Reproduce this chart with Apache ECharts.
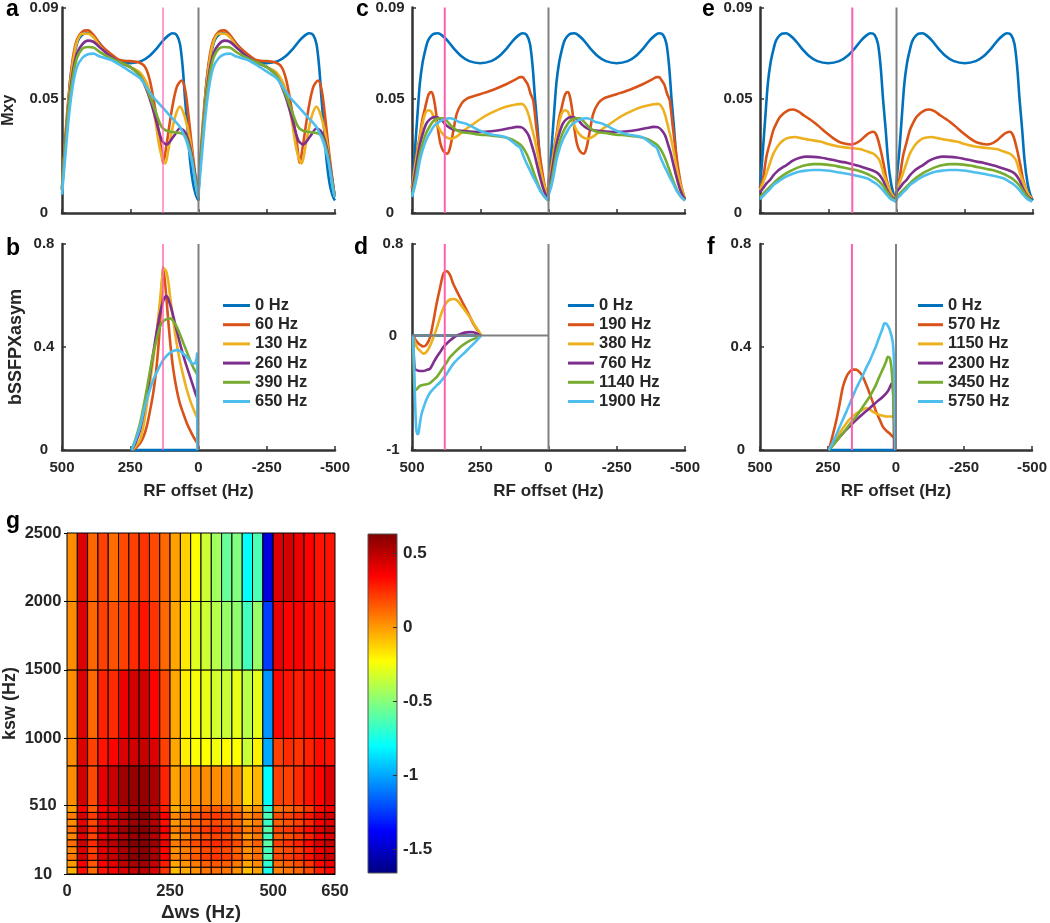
<!DOCTYPE html>
<html><head><meta charset="utf-8">
<script src="https://cdn.jsdelivr.net/npm/echarts@6/dist/echarts.min.js"></script>
<style>html,body{margin:0;padding:0;background:#fff}#chart{width:1050px;height:923px}</style>
</head><body><div id="chart"></div>
<script>
// ================= DATA =================
// RF offsets (Hz) for one 500 Hz period (500 -> 0); the Mxy profile repeats for 0 -> -500
const legendB = ['0 Hz', '60 Hz', '130 Hz', '260 Hz', '390 Hz', '650 Hz'];
const legendD = ['0 Hz', '190 Hz', '380 Hz', '760 Hz', '1140 Hz', '1900 Hz'];
const legendF = ['0 Hz', '570 Hz', '1150 Hz', '2300 Hz', '3450 Hz', '5750 Hz'];

const pinkA = 130, pinkC = 380, pinkE = 162;   // saturation offsets (pink lines)

const mxyTicks = [0, 0.05, 0.09];
const asymTicksB = [0, 0.4, 0.8];
const asymTicksD = [-1, 0, 0.8];
const xTickLabels = [500, 250, 0, -250, -500];

// 0 Hz (no exchange) Mxy, one period
const mxyBlue = [[500,0.011],[489,0.028],[480,0.043],[471,0.057],[461,0.066],[452,0.071],[443,0.075],[434,0.077],[420,0.0785],[405,0.0787],[390,0.0778],[370,0.0755],[350,0.0725],[320,0.0688],[290,0.0665],[250,0.0656],[210,0.0665],[180,0.0688],[150,0.0725],[130,0.0755],[110,0.0778],[95,0.0787],[80,0.078],[68,0.0741],[58,0.064],[49,0.0494],[40,0.037],[31,0.0232],[20,0.013],[10,0.008],[3,0.006],[0,0.0055]];

// panel a (Δω varies)
const mxyA60 = [[500,0.011],[490,0.030],[475,0.052],[460,0.068],[445,0.076],[425,0.0795],[405,0.080],[385,0.078],[361,0.074],[324,0.070],[288,0.067],[251,0.0665],[220,0.066],[196,0.064],[178,0.058],[160,0.0465],[141,0.032],[129,0.022],[117,0.030],[98,0.045],[80,0.055],[62,0.058],[49,0.054],[37,0.043],[25,0.030],[12,0.017],[1,0.007]];
const mxyA130 = [[500,0.010],[490,0.028],[475,0.050],[460,0.066],[445,0.075],[425,0.0785],[405,0.0785],[385,0.077],[361,0.073],[324,0.0687],[288,0.066],[251,0.064],[214,0.0615],[184,0.055],[159,0.041],[141,0.0277],[123,0.0217],[104,0.032],[86,0.042],[68,0.0466],[50,0.042],[31,0.032],[13,0.016],[1,0.007]];
const mxyA260 = [[500,0.010],[490,0.027],[475,0.048],[460,0.062],[445,0.070],[425,0.074],[405,0.0755],[385,0.075],[361,0.0725],[324,0.0687],[288,0.066],[251,0.064],[214,0.060],[184,0.052],[159,0.0422],[135,0.032],[117,0.030],[92,0.0334],[68,0.037],[50,0.0355],[31,0.029],[13,0.017],[1,0.007]];
const mxyA390 = [[500,0.010],[490,0.026],[475,0.047],[460,0.060],[445,0.068],[425,0.072],[405,0.0727],[385,0.0725],[361,0.0705],[324,0.068],[288,0.066],[251,0.064],[214,0.060],[184,0.0528],[159,0.045],[135,0.0377],[117,0.036],[92,0.0355],[68,0.035],[50,0.034],[31,0.0276],[13,0.016],[1,0.007]];
const mxyA650 = [[500,0.008],[490,0.022],[475,0.042],[460,0.056],[445,0.064],[425,0.068],[405,0.0695],[385,0.0698],[361,0.0685],[324,0.0672],[288,0.0649],[251,0.062],[214,0.059],[190,0.055],[166,0.0508],[141,0.0475],[117,0.0443],[92,0.041],[68,0.0377],[55,0.0345],[43,0.0312],[25,0.0232],[7,0.010],[1,0.007]];

// panel c (ksw varies)
const mxyC190 = [[500,0.011],[489,0.021],[480,0.028],[471,0.034],[462,0.041],[452,0.046],[442,0.051],[434,0.0528],[428,0.053],[420,0.050],[412,0.044],[404,0.036],[395,0.030],[385,0.0272],[372,0.026],[362,0.028],[350,0.035],[336,0.0435],[318,0.048],[300,0.050],[251,0.052],[202,0.054],[153,0.0565],[120,0.0585],[104,0.0595],[95,0.0595],[85,0.058],[75,0.056],[65,0.052],[56,0.0494],[45,0.038],[31,0.0247],[20,0.016],[13,0.0115],[5,0.008],[0,0.006]];
const mxyC380 = [[500,0.010],[489,0.020],[480,0.027],[471,0.033],[460,0.040],[450,0.044],[440,0.045],[430,0.0445],[420,0.042],[405,0.038],[390,0.035],[372,0.033],[355,0.0325],[340,0.0332],[320,0.035],[300,0.037],[275,0.039],[245,0.0415],[214,0.0436],[180,0.0455],[153,0.0466],[120,0.0475],[98,0.0478],[85,0.0465],[73,0.043],[62,0.0378],[50,0.032],[40,0.026],[31,0.020],[20,0.014],[7,0.0085],[0,0.006]];
const mxyC760 = [[500,0.009],[489,0.017],[480,0.024],[471,0.030],[460,0.035],[448,0.039],[435,0.041],[420,0.042],[405,0.0418],[390,0.0405],[375,0.0385],[360,0.0372],[345,0.0365],[320,0.036],[290,0.0357],[250,0.0355],[210,0.0358],[170,0.0365],[140,0.0372],[115,0.0377],[98,0.0375],[85,0.0362],[73,0.034],[62,0.030],[52,0.026],[43,0.0215],[31,0.0157],[20,0.011],[10,0.008],[0,0.006]];
const mxyC1140 = [[500,0.008],[489,0.014],[480,0.020],[471,0.026],[460,0.031],[448,0.035],[435,0.038],[420,0.0405],[400,0.0415],[384,0.0415],[370,0.040],[355,0.038],[340,0.0365],[320,0.0355],[290,0.035],[250,0.0343],[214,0.034],[180,0.0335],[153,0.033],[130,0.032],[110,0.0305],[98,0.0293],[85,0.027],[73,0.024],[62,0.0205],[52,0.017],[43,0.014],[31,0.0105],[20,0.008],[10,0.0065],[0,0.0055]];
const mxyC1900 = [[500,0.007],[489,0.012],[480,0.017],[471,0.023],[460,0.028],[448,0.032],[435,0.035],[420,0.038],[400,0.040],[380,0.0412],[361,0.0415],[345,0.041],[330,0.040],[300,0.039],[275,0.0375],[251,0.036],[214,0.0345],[180,0.0338],[153,0.033],[130,0.031],[115,0.0295],[104,0.0287],[92,0.025],[80,0.0217],[68,0.0187],[56,0.0157],[43,0.0128],[31,0.0098],[20,0.008],[10,0.0065],[0,0.0055]];

// panel e (concentration varies)
const mxyE570 = [[500,0.011],[494,0.013],[488,0.0157],[476,0.025],[463,0.031],[451,0.0363],[439,0.0395],[427,0.042],[415,0.0435],[403,0.0445],[390,0.0452],[378,0.0453],[360,0.0445],[340,0.0428],[320,0.0412],[305,0.040],[280,0.0375],[256,0.035],[231,0.0327],[207,0.031],[182,0.0302],[170,0.030],[150,0.0305],[130,0.032],[109,0.0343],[97,0.0352],[85,0.0356],[73,0.034],[61,0.029],[48,0.022],[36,0.0145],[24,0.010],[12,0.0072],[3,0.0065]];
const mxyE1150 = [[500,0.010],[488,0.0135],[476,0.0174],[463,0.022],[451,0.026],[439,0.0285],[427,0.0305],[415,0.0318],[403,0.0327],[390,0.0331],[372,0.0333],[350,0.0328],[320,0.0321],[280,0.0313],[244,0.030],[207,0.029],[170,0.0285],[134,0.028],[109,0.027],[85,0.026],[73,0.0248],[61,0.0228],[48,0.0174],[36,0.0135],[24,0.010],[12,0.0072],[3,0.0065]];
const mxyE2300 = [[500,0.009],[488,0.011],[476,0.013],[463,0.0145],[451,0.0165],[439,0.018],[427,0.0192],[403,0.021],[378,0.023],[354,0.0242],[329,0.0247],[305,0.0246],[280,0.0243],[256,0.0238],[231,0.0232],[207,0.0225],[182,0.022],[158,0.0212],[134,0.0205],[109,0.0195],[85,0.0185],[73,0.0178],[61,0.0165],[48,0.014],[36,0.0105],[24,0.008],[12,0.0065],[3,0.006]];
const mxyE3450 = [[500,0.007],[488,0.0085],[476,0.010],[463,0.0115],[451,0.013],[439,0.0143],[427,0.0155],[403,0.0175],[378,0.019],[354,0.0202],[329,0.021],[305,0.0214],[280,0.0214],[256,0.0212],[231,0.0208],[207,0.0202],[182,0.0196],[158,0.019],[134,0.0183],[109,0.0172],[97,0.0165],[85,0.0157],[73,0.0148],[61,0.0135],[48,0.0118],[36,0.0095],[24,0.0075],[12,0.006],[3,0.0055]];
const mxyE5750 = [[500,0.006],[488,0.0075],[476,0.009],[463,0.0105],[451,0.0122],[439,0.0133],[427,0.0143],[403,0.016],[378,0.0173],[354,0.0182],[329,0.0186],[305,0.0188],[280,0.0188],[256,0.0186],[231,0.0182],[207,0.0177],[182,0.0172],[158,0.0166],[134,0.016],[109,0.0152],[97,0.0145],[85,0.0136],[73,0.0127],[61,0.0115],[48,0.0098],[36,0.008],[24,0.0065],[12,0.0055],[3,0.005]];

// panel b asymmetry
const asymB0 = [[250,0],[0,0]];
const asymB60 = [[245,0],[230,0.008],[214,0.026],[202,0.05],[190,0.09],[178,0.15],[166,0.22],[156,0.30],[147,0.40],[138,0.54],[129,0.71],[120,0.62],[111,0.505],[102,0.40],[92,0.31],[80,0.235],[68,0.18],[55,0.14],[43,0.105],[31,0.077],[19,0.052],[8,0.033],[4,0.025],[3,0]];
const asymB130 = [[245,0],[230,0.015],[214,0.04],[202,0.09],[190,0.17],[178,0.26],[166,0.35],[153,0.46],[141,0.58],[134,0.66],[127,0.705],[122,0.70],[117,0.69],[110,0.65],[104,0.595],[92,0.50],[80,0.414],[68,0.345],[55,0.285],[43,0.235],[31,0.194],[19,0.16],[7,0.13],[4,0.125],[3,0]];
const asymB260 = [[245,0],[230,0.03],[214,0.078],[202,0.14],[190,0.207],[178,0.29],[166,0.375],[153,0.46],[141,0.53],[129,0.58],[117,0.598],[104,0.565],[92,0.518],[80,0.465],[68,0.414],[55,0.365],[43,0.324],[31,0.285],[19,0.246],[8,0.21],[4,0.2],[3,0]];
const asymB390 = [[245,0],[230,0.045],[214,0.104],[202,0.165],[190,0.233],[178,0.305],[166,0.375],[153,0.43],[141,0.479],[129,0.50],[117,0.508],[104,0.511],[92,0.50],[80,0.479],[68,0.45],[55,0.414],[43,0.382],[31,0.35],[19,0.32],[7,0.298],[4,0.292],[3,0]];
const asymB650 = [[245,0],[230,0.04],[214,0.09],[202,0.145],[190,0.194],[178,0.235],[166,0.272],[147,0.315],[129,0.35],[110,0.373],[92,0.385],[80,0.388],[68,0.385],[55,0.373],[43,0.362],[31,0.345],[24,0.337],[15,0.335],[8,0.352],[5,0.375],[4.5,0]];

// panel d asymmetry
const asymD0 = [[500,0],[250,0]];
const asymD190 = [[497,0],[489,-0.03],[480,-0.06],[471,-0.08],[458,-0.096],[446,-0.075],[434,-0.015],[422,0.12],[410,0.277],[397,0.42],[385,0.54],[373,0.562],[361,0.53],[349,0.452],[330,0.36],[312,0.277],[293,0.19],[275,0.102],[260,0.045],[247,0]];
const asymD380 = [[497,0],[489,-0.06],[480,-0.11],[471,-0.131],[458,-0.158],[446,-0.14],[434,-0.09],[422,-0.02],[410,0.06],[397,0.16],[385,0.24],[373,0.29],[361,0.315],[349,0.32],[336,0.31],[324,0.277],[306,0.22],[288,0.16],[270,0.09],[255,0.035],[247,0]];
const asymD760 = [[497,0],[494,-0.15],[490,-0.29],[485,-0.30],[471,-0.31],[458,-0.31],[446,-0.30],[434,-0.29],[422,-0.24],[410,-0.19],[397,-0.145],[385,-0.10],[373,-0.07],[361,-0.044],[349,-0.02],[336,0],[324,0.012],[312,0.023],[300,0.028],[288,0.03],[275,0.028],[260,0.015],[247,0]];
const asymD1140 = [[497,0],[494,-0.25],[491,-0.46],[487,-0.475],[483,-0.47],[471,-0.44],[458,-0.43],[446,-0.425],[434,-0.415],[422,-0.39],[410,-0.364],[397,-0.32],[385,-0.277],[373,-0.235],[361,-0.19],[343,-0.145],[324,-0.102],[306,-0.07],[288,-0.044],[265,-0.02],[247,0]];
const asymD1900 = [[496,0],[493,-0.2],[489,-0.55],[485,-0.8],[481,-0.86],[477,-0.86],[472,-0.78],[465,-0.685],[455,-0.61],[446,-0.553],[434,-0.5],[422,-0.466],[410,-0.437],[397,-0.408],[385,-0.372],[373,-0.335],[361,-0.29],[349,-0.248],[330,-0.2],[312,-0.16],[293,-0.115],[275,-0.073],[260,-0.035],[247,0]];

// panel f asymmetry
const asymF0 = [[250,0],[0,0]];
const asymF570 = [[247,0],[232,0.06],[219,0.117],[207,0.18],[195,0.246],[182,0.285],[170,0.304],[158,0.312],[146,0.312],[134,0.302],[122,0.285],[110,0.255],[97,0.22],[85,0.185],[73,0.149],[60,0.118],[48,0.09],[36,0.075],[24,0.065],[12,0.052],[6,0.047],[4,0]];
const asymF1150 = [[247,0],[232,0.022],[219,0.045],[195,0.085],[170,0.12],[146,0.142],[122,0.157],[110,0.162],[97,0.158],[85,0.149],[73,0.142],[60,0.136],[48,0.133],[36,0.13],[24,0.13],[12,0.13],[6,0.128],[4,0]];
const asymF2300 = [[247,0],[232,0.02],[219,0.035],[195,0.065],[170,0.092],[146,0.117],[122,0.14],[97,0.162],[73,0.185],[48,0.207],[30,0.228],[15,0.259],[10,0.22],[7,0]];
const asymF3450 = [[247,0],[232,0.018],[219,0.035],[207,0.05],[195,0.065],[182,0.083],[170,0.1],[158,0.115],[146,0.13],[122,0.168],[97,0.207],[85,0.23],[73,0.255],[61,0.285],[48,0.315],[36,0.345],[30,0.362],[22,0.355],[15,0.3],[10,0.2],[6,0.1],[4,0]];
const asymF5750 = [[247,0],[232,0.03],[219,0.06],[207,0.09],[195,0.119],[182,0.15],[170,0.18],[158,0.21],[146,0.24],[134,0.265],[122,0.29],[110,0.318],[97,0.345],[85,0.375],[73,0.405],[61,0.44],[50,0.47],[42,0.492],[35,0.49],[24,0.47],[12,0.42],[6,0.3],[2,0]];

// panel g heat map: cell edges and bSSFPXasym per cell (rows named by lower ksw edge)
const dwsEdges = [0,25,50,75,100,125,150,175,200,225,250,275,300,325,350,375,400,425,450,475,500,525,550,575,600,625,650];
const kswEdges = [10,60,110,160,210,260,310,360,410,460,510,800,1000,1500,2000,2500];
const dwsTicks = [0, 250, 500, 650];
const kswTicks = [10, 510, 1000, 1500, 2000, 2500];
const cbarTicks = [-1.5, -1, -0.5, 0, 0.5];
const cLim = [-1.66, 0.63];
const row10   = [-0.05,0.32,0.10,0.30,0.35,0.43,0.48,0.50,0.42,0.23,-0.08,-0.04,0.02,0.08,0.10,0.08,0.02,-0.08,-0.02,-0.75,0.05,0.08,0.12,0.18,0.28,0.33];
const row60   = [0.00,0.37,0.15,0.35,0.40,0.48,0.53,0.55,0.47,0.28,-0.03,0.01,0.07,0.13,0.15,0.13,0.07,-0.03,0.03,-0.70,0.10,0.13,0.17,0.23,0.33,0.38];
const row110  = [0.08,0.45,0.23,0.43,0.48,0.56,0.61,0.62,0.55,0.36,0.05,0.09,0.15,0.21,0.23,0.21,0.15,0.05,0.11,-0.62,0.18,0.21,0.25,0.31,0.41,0.46];
const row160  = [0.05,0.42,0.20,0.40,0.45,0.53,0.58,0.60,0.52,0.33,0.02,0.06,0.12,0.18,0.20,0.18,0.12,0.02,0.08,-0.65,0.15,0.18,0.22,0.28,0.38,0.43];
const row210  = [0.10,0.47,0.25,0.45,0.50,0.58,0.62,0.62,0.57,0.38,0.07,0.11,0.17,0.23,0.25,0.23,0.17,0.07,0.13,-0.60,0.20,0.23,0.27,0.33,0.43,0.48];
const row260  = [0.04,0.41,0.19,0.39,0.44,0.52,0.57,0.59,0.51,0.32,0.01,0.05,0.11,0.17,0.19,0.17,0.11,0.01,0.07,-0.66,0.14,0.17,0.21,0.27,0.37,0.42];
const row310  = [0.09,0.46,0.24,0.44,0.49,0.57,0.62,0.62,0.56,0.37,0.06,0.10,0.16,0.22,0.24,0.22,0.16,0.06,0.12,-0.61,0.19,0.22,0.26,0.32,0.42,0.47];
const row360  = [0.03,0.40,0.18,0.38,0.43,0.51,0.56,0.58,0.50,0.31,0.00,0.04,0.10,0.16,0.18,0.16,0.10,0.00,0.06,-0.67,0.13,0.16,0.20,0.26,0.36,0.41];
const row410  = [0.07,0.44,0.22,0.42,0.47,0.55,0.60,0.62,0.54,0.35,0.04,0.08,0.14,0.20,0.22,0.20,0.14,0.04,0.10,-0.63,0.17,0.20,0.24,0.30,0.40,0.45];
const row460  = [-0.01,0.36,0.14,0.34,0.39,0.47,0.52,0.54,0.46,0.27,-0.04,0.00,0.06,0.12,0.14,0.12,0.06,-0.04,0.02,-0.71,0.09,0.12,0.16,0.22,0.32,0.37];
const row510  = [0.03,0.45,0.18,0.40,0.47,0.556,0.58,0.58,0.53,0.27,-0.02,0.00,0.00,0.03,0.03,0.03,0.01,-0.15,-0.06,-0.80,0.20,0.20,0.25,0.30,0.34,0.42];
const row800  = [0.03,0.42,0.20,0.30,0.34,0.42,0.45,0.47,0.42,0.20,-0.03,-0.19,-0.23,-0.23,-0.26,-0.22,-0.23,-0.35,-0.20,-0.99,0.20,0.25,0.23,0.27,0.32,0.30];
const row1000 = [0.03,0.42,0.11,0.27,0.25,0.38,0.44,0.45,0.34,0.18,-0.03,-0.19,-0.25,-0.28,-0.33,-0.35,-0.28,-0.39,-0.28,-1.04,0.33,0.30,0.28,0.30,0.32,0.30];
const row1500 = [0.03,0.42,0.115,0.20,0.16,0.20,0.25,0.30,0.23,0.11,-0.03,-0.18,-0.30,-0.34,-0.39,-0.46,-0.48,-0.65,-0.46,-1.24,0.39,0.34,0.35,0.32,0.30,0.30];
const row2000 = [0.03,0.42,0.115,0.20,0.10,0.18,0.20,0.23,0.18,0.11,-0.016,-0.126,-0.23,-0.34,-0.44,-0.57,-0.515,-0.80,-0.63,-1.45,0.42,0.44,0.38,0.344,0.30,0.30];
const heatRows = [row10,row60,row110,row160,row210,row260,row310,row360,row410,row460,row510,row800,row1000,row1500,row2000];

// ================= STYLE / LAYOUT =================
const FONT = "'Liberation Sans', Arial, sans-serif";
const TXT = '#262626';
const AXISC = '#333333';
const COLORS = ['#0072BD', '#D95319', '#EDB120', '#7E2F8E', '#77AC30', '#4DBEEE'];
const PINK = '#FF5FB0';
const GRAY = '#808080';
const PW = 273, PH = 206;
const plain = v => String(v);

function twoPeriods(pts) {
  return pts.map(p => [p[0], p[1]]).concat(pts.map(p => [p[0] - 500, p[1]]));
}

const panels = [
  {left:62,  top:7,   yMin:0,  yMax:0.09, ticks:mxyTicks,   xLab:false, names:legendB, curves:[mxyBlue,mxyA60,mxyA130,mxyA260,mxyA390,mxyA650].map(twoPeriods), pink:pinkA, pinkW:1.2, lm:18, yName:'Mxy', yGap:45, ySize:16},
  {left:62,  top:244, yMin:0,  yMax:0.8,  ticks:asymTicksB, xLab:true,  names:legendB, curves:[asymB0,asymB60,asymB130,asymB260,asymB390,asymB650], pink:pinkA, pinkW:1.4, lm:18, yName:'bSSFPXasym', yGap:37, ySize:18, legendLeft:218, lw:27},
  {left:412, top:7,   yMin:0,  yMax:0.09, ticks:mxyTicks,   xLab:false, names:legendD, curves:[mxyBlue,mxyC190,mxyC380,mxyC760,mxyC1140,mxyC1900].map(twoPeriods), pink:pinkC, pinkW:2, lm:22},
  {left:412, top:244, yMin:-1, yMax:0.8,  ticks:asymTicksD, xLab:true,  names:legendD, curves:[asymD0,asymD190,asymD380,asymD760,asymD1140,asymD1900], pink:pinkC, pinkW:2, lm:19, zeroLine:true, legendLeft:563, lw:26},
  {left:760, top:7,   yMin:0,  yMax:0.09, ticks:mxyTicks,   xLab:false, names:legendF, curves:[mxyBlue,mxyE570,mxyE1150,mxyE2300,mxyE3450,mxyE5750].map(twoPeriods), pink:pinkE, pinkW:2, lm:22},
  {left:760, top:244, yMin:0,  yMax:0.8,  ticks:asymTicksB, xLab:true,  names:legendF, curves:[asymF0,asymF570,asymF1150,asymF2300,asymF3450,asymF5750], pink:pinkE, pinkW:2, lm:19, legendLeft:913, lw:25}
];

const grids = [], xAxes = [], yAxes = [], series = [], legends = [];
const labelStyle = {fontFamily: FONT, fontWeight: 'bold', color: TXT};

panels.forEach((p, i) => {
  grids.push({left: p.left, top: p.top, width: PW, height: PH});
  xAxes.push({
    type: 'value', gridIndex: i, min: -500, max: 500, interval: 250, inverse: true,
    axisLine: {onZero: false, lineStyle: {color: AXISC, width: 2.5}},
    axisTick: {inside: true, length: 4, lineStyle: {color: AXISC, width: 1.5}},
    axisLabel: Object.assign({show: p.xLab, margin: 10, fontSize: 15, formatter: plain}, labelStyle),
    splitLine: {show: false},
    name: p.xLab ? 'RF offset (Hz)' : '', nameLocation: 'middle', nameGap: 33,
    nameTextStyle: Object.assign({fontSize: 17}, labelStyle)
  });
  yAxes.push({
    type: 'value', gridIndex: i, min: p.yMin, max: p.yMax,
    axisLine: {show: true, onZero: false, lineStyle: {color: AXISC, width: 2.5}},
    axisTick: {show: true, inside: true, length: 4, customValues: p.ticks, lineStyle: {color: AXISC, width: 1.5}},
    axisLabel: Object.assign({customValues: p.ticks, align: 'center', margin: p.lm, fontSize: 15, formatter: plain}, labelStyle),
    splitLine: {show: false},
    name: p.yName || '', nameLocation: 'middle', nameRotate: 90, nameGap: p.yGap || 40,
    nameTextStyle: Object.assign({fontSize: p.ySize || 16}, labelStyle)
  });
  p.curves.forEach((data, k) => {
    series.push({
      type: 'line', name: p.names[k], xAxisIndex: i, yAxisIndex: i, data: data,
      symbol: 'none', smooth: 0.3, clip: false, silent: true,
      lineStyle: {color: COLORS[k], width: 2.6}, itemStyle: {color: COLORS[k]}, z: 3
    });
  });
  if (p.zeroLine) {
    series.push({type: 'line', name: '_zero', xAxisIndex: i, yAxisIndex: i, data: [[500, 0], [0, 0]],
      symbol: 'none', silent: true, clip: false, lineStyle: {color: GRAY, width: 2}, z: 4});
  }
  series.push({type: 'line', name: '_pink', xAxisIndex: i, yAxisIndex: i, data: [[p.pink, p.yMin], [p.pink, p.yMax]],
    symbol: 'none', silent: true, clip: false, lineStyle: {color: PINK, width: p.pinkW}, z: 5});
  series.push({type: 'line', name: '_gray', xAxisIndex: i, yAxisIndex: i, data: [[0, p.yMin], [0, p.yMax]],
    symbol: 'none', silent: true, clip: false, lineStyle: {color: GRAY, width: 2}, z: 5});
  if (p.legendLeft) {
    legends.push({
      left: p.legendLeft, top: 292, orient: 'vertical', icon: 'rect',
      itemWidth: p.lw, itemHeight: 3, itemGap: 2.2, selectedMode: false, data: p.names,
      textStyle: Object.assign({fontSize: 16.5}, labelStyle)
    });
  }
});

// ----- heat map -----
function clamp01(x) { return Math.max(0, Math.min(1, x)); }
function jetT(t) {
  const r = clamp01(1.5 - Math.abs(4 * t - 3));
  const g = clamp01(1.5 - Math.abs(4 * t - 2));
  const b = clamp01(1.5 - Math.abs(4 * t - 1));
  return 'rgb(' + Math.round(r * 255) + ',' + Math.round(g * 255) + ',' + Math.round(b * 255) + ')';
}
function jet(v) { return jetT(clamp01((v - cLim[0]) / (cLim[1] - cLim[0]))); }

const hg = grids.length;
grids.push({left: 66, top: 533, width: 269, height: 341});
xAxes.push({
  type: 'value', gridIndex: hg, min: 0, max: 650,
  axisLine: {onZero: false, lineStyle: {color: '#000', width: 1}},
  axisTick: {show: false},
  axisLabel: Object.assign({customValues: dwsTicks, margin: 9, fontSize: 16.5, formatter: plain}, labelStyle),
  splitLine: {show: false},
  name: 'Δws (Hz)', nameLocation: 'middle', nameGap: 29,
  nameTextStyle: Object.assign({fontSize: 19}, labelStyle)
});
yAxes.push({
  type: 'value', gridIndex: hg, min: 10, max: 2500,
  axisLine: {onZero: false, lineStyle: {color: '#000', width: 1}},
  axisTick: {show: true, customValues: kswTicks, length: 3, lineStyle: {color: '#000'}},
  axisLabel: Object.assign({customValues: kswTicks, align: 'center', margin: 24, fontSize: 16.5, formatter: plain}, labelStyle),
  splitLine: {show: false},
  name: 'ksw (Hz)', nameLocation: 'middle', nameRotate: 90, nameGap: 48,
  nameTextStyle: Object.assign({fontSize: 18}, labelStyle)
});
const heatData = [];
heatRows.forEach((row, r) => {
  row.forEach((v, c) => {
    heatData.push([dwsEdges[c], dwsEdges[c + 1], kswEdges[r], kswEdges[r + 1], v]);
  });
});
series.push({
  type: 'custom', name: '_heat', xAxisIndex: hg, yAxisIndex: hg, data: heatData, silent: true,
  encode: {x: [0, 1], y: [2, 3]},
  renderItem: function (params, api) {
    const p0 = api.coord([api.value(0), api.value(3)]);
    const p1 = api.coord([api.value(1), api.value(2)]);
    return {type: 'rect', shape: {x: p0[0], y: p0[1], width: p1[0] - p0[0], height: p1[1] - p0[1]},
      style: {fill: jet(api.value(4)), stroke: '#000', lineWidth: 1}};
  }
});

// ----- colour bar -----
const cg = grids.length;
grids.push({left: 368, top: 534, width: 29, height: 339});
xAxes.push({type: 'value', gridIndex: cg, min: 0, max: 1, show: false});
yAxes.push({
  type: 'value', gridIndex: cg, min: cLim[0], max: cLim[1], position: 'right', z: 10,
  axisLine: {show: false, onZero: false},
  axisTick: {show: true, inside: true, length: 4, customValues: cbarTicks, lineStyle: {color: '#333'}},
  axisLabel: Object.assign({customValues: cbarTicks, margin: 6, fontSize: 17, formatter: plain}, labelStyle),
  splitLine: {show: false}
});
const cbStops = [];
for (let s = 0; s <= 16; s++) { const t = 1 - s / 16; cbStops.push({offset: s / 16, color: jetT(t)}); }
series.push({
  type: 'custom', name: '_cbar', xAxisIndex: cg, yAxisIndex: cg, data: [[0.5, 0]], silent: true,
  renderItem: function (params, api) {
    const cs = params.coordSys;
    return {type: 'rect', shape: {x: cs.x, y: cs.y, width: cs.width, height: cs.height},
      style: {fill: new echarts.graphic.LinearGradient(0, 0, 0, 1, cbStops), stroke: '#555', lineWidth: 1}};
  }
});

// panel letters
const letters = [['a', 6, 10], ['b', 6, 249], ['c', 356, 10], ['d', 354, 248], ['e', 702, 10], ['f', 707, 248], ['g', 6, 522]];
const graphics = letters.map(l => ({
  type: 'text', x: l[1], y: l[2], z: 100,
  style: {text: l[0], font: "bold 23px 'Liberation Sans', Arial, sans-serif", fill: '#000', verticalAlign: 'middle'}
}));

const chart = echarts.init(document.getElementById('chart'), null, {renderer: 'canvas'});
chart.setOption({
  animation: false,
  backgroundColor: '#fff',
  grid: grids, xAxis: xAxes, yAxis: yAxes, series: series, legend: legends, graphic: graphics
});
</script>
</body></html>
